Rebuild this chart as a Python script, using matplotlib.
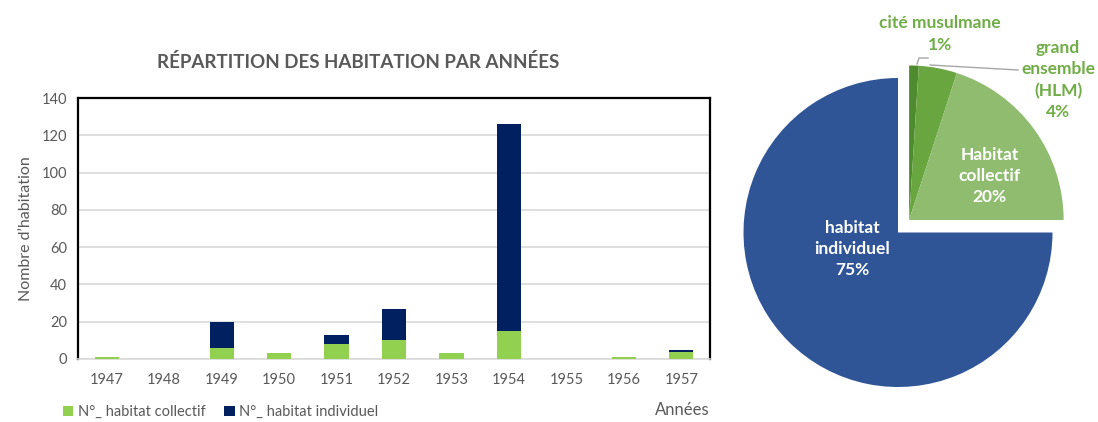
import matplotlib
matplotlib.use("Agg")
import matplotlib.pyplot as plt

# --- data -----------------------------------------------------------------
years = ["1947", "1948", "1949", "1950", "1951", "1952",
         "1953", "1954", "1955", "1956", "1957"]
collectif = [1, 0, 6, 3, 8, 10, 3, 15, 0, 1, 4]
individuel = [0, 0, 14, 0, 5, 17, 0, 111, 0, 0, 1]

legend_labels = ["N°_ habitat collectif", "N°_ habitat individuel"]

pie_names = ["cité musulmane", "grand\nensemble\n(HLM)",
             "Habitat\ncollectif", "habitat\nindividuel"]
pie_shares = [1, 4, 20, 75]

# --- style ----------------------------------------------------------------
plt.rcParams["font.family"] = ["Lato", "DejaVu Sans"]
GREY = "#595959"
C_COLL = "#92D050"
C_IND = "#002060"
PIE_COLORS = ["#4E8A2E", "#69A640", "#8FBC6F", "#2F5597"]
PIE_TXT = "#70AD47"

W, H = 1098, 422
fig = plt.figure(figsize=(W / 100, H / 100), dpi=100)

# --- stacked bars ---------------------------------------------------------
ax = fig.add_axes([78 / W, 1 - 359 / H, (710 - 78) / W, (359 - 98) / H])
x = range(len(years))
b1 = ax.bar(x, collectif, width=0.42, color=C_COLL, zorder=3)
b2 = ax.bar(x, individuel, width=0.42, bottom=collectif, color=C_IND, zorder=3)

ax.set_xlim(-0.5, len(years) - 0.5)
ax.set_ylim(0, 140)
ax.set_yticks(range(0, 141, 20))
ax.set_xticks(list(x))
ax.set_xticklabels(years)
ax.tick_params(axis="both", length=0, labelsize=10.5, colors=GREY)
ax.tick_params(axis="x", pad=10)
ax.tick_params(axis="y", pad=8)
ax.yaxis.grid(True, color="#D9D9D9", linewidth=1.2, zorder=0)
ax.set_axisbelow(True)
for side in ["left", "top", "right"]:
    ax.spines[side].set_color("black")
    ax.spines[side].set_linewidth(1.6)
ax.spines["bottom"].set_color("#D9D9D9")
ax.spines["bottom"].set_linewidth(1.2)

ax.set_ylabel("Nombre d\u2019habitation", fontsize=11.5, color=GREY, labelpad=6)
ax.set_xlabel("Années", fontsize=12, color=GREY, loc="right", labelpad=11)

fig.text(358 / W, 1 - 62 / H, "RÉPARTITION DES HABITATION PAR ANNÉES",
         ha="center", va="center", fontsize=13.5, fontweight="bold", color=GREY)

fig.legend([b1, b2], legend_labels, loc="center left",
           bbox_to_anchor=(50 / W, 1 - 412 / H), ncol=2, frameon=False,
           handlelength=0.7, handleheight=0.7, handletextpad=0.3,
           columnspacing=1.3, fontsize=10.5, labelcolor=GREY)

# --- pie ------------------------------------------------------------------
R = 154.5  # pixels per data unit in the pie axes
cx, cy = 898, 232.5
pax = fig.add_axes([730 / W, 0, (W - 730) / W, 1])
pax.axis("off")

# main (blue) part, green wedges hidden
blue_only = ["none", "none", "none", PIE_COLORS[3]]
pax.pie(pie_shares, colors=blue_only, startangle=90, counterclock=False,
        radius=1, center=(0, 0), wedgeprops=dict(linewidth=0))
# green group, pulled out towards the upper right
green_only = PIE_COLORS[:3] + ["none"]
pax.pie(pie_shares, colors=green_only, startangle=90, counterclock=False,
        radius=1, center=(0.072, 0.081), wedgeprops=dict(linewidth=0))
pax.set_xlim((730 - cx) / R, (W - cx) / R)
pax.set_ylim((cy - H) / R, cy / R)

lab = [f"{n}\n{v}%" for n, v in zip(pie_names, pie_shares)]
kw = dict(ha="center", va="center", fontweight="bold", linespacing=1.4)
pax.text(0.272, 1.285, lab[0], fontsize=12.5, color=PIE_TXT, **kw)
pax.text(1.036, 0.987, lab[1], fontsize=12.5, color=PIE_TXT, **kw)
pax.text(0.595, 0.366, lab[2], fontsize=12.5, color="white", **kw)
pax.text(-0.298, -0.107, lab[3], fontsize=12.5, color="white", **kw)

# leader lines
pax.plot([(917 - cx) / R, (919 - cx) / R, (928 - cx) / R],
         [(cy - 64) / R, (cy - 58) / R, (cy - 58) / R],
         color="#A6A6A6", linewidth=1)
pax.plot([(930 - cx) / R, (1018 - cx) / R],
         [(cy - 65) / R, (cy - 70) / R],
         color="#A6A6A6", linewidth=1)

fig.savefig("out.png", dpi=100)
